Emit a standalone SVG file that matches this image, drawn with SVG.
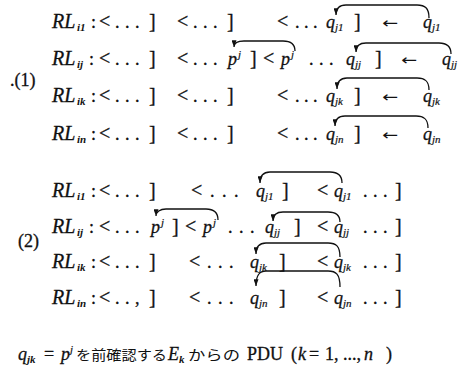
<svg xmlns="http://www.w3.org/2000/svg" width="471" height="376" viewBox="0 0 471 376">
<style>
.t{font-family:'Liberation Serif',serif;font-size:18px;fill:#111;stroke:#111;stroke-width:0.3}
.lt{font-family:'Liberation Serif',serif;font-size:20px;fill:#111;stroke:#111;stroke-width:0.3}
.m{font-family:'Liberation Serif',serif;font-size:18px;font-style:italic;fill:#111;stroke:#111;stroke-width:0.3}
.rl{font-family:'Liberation Serif',serif;font-size:20px;font-style:italic;fill:#111;stroke:#111;stroke-width:0.3}
.s{font-family:'Liberation Serif',serif;font-size:11px;font-style:italic;fill:#111;stroke:#111;stroke-width:0.2}
.sb{font-family:'Liberation Serif',serif;font-size:11px;font-style:italic;font-weight:bold;fill:#111}
.ar{font-family:'DejaVu Sans',sans-serif;font-size:15px;fill:#111}
.cj{font-family:'Noto Sans CJK JP',sans-serif;font-size:14px;fill:#111}
.c{fill:none;stroke:#111;stroke-width:1.3;marker-end:url(#ah)}
</style>
<defs>
<marker id="ah" viewBox="0 0 8 6" refX="8" refY="3" markerWidth="8" markerHeight="5" markerUnits="userSpaceOnUse" orient="auto">
<path d="M0,0 L8,3 L0,6 z" fill="#111"/>
</marker>
</defs>
<rect width="471" height="376" fill="#fff"/>
<g id="label1"><text class="t" x="10" y="86">.(1)</text></g>
<g id="label2"><text class="t" x="18" y="247">(2)</text></g>

<g id="s1-i1">
<text class="rl" x="52" y="28">RL</text><text class="sb" x="77" y="31">i1</text><text class="t" x="91" y="28">:</text>
<text class="lt" x="99" y="28">&lt;</text><text class="t" x="115 125 135" y="28">...</text><text class="lt" x="149" y="28">]</text>
<text class="lt" x="177" y="28">&lt;</text><text class="t" x="193 203 213" y="28">...</text><text class="lt" x="227" y="28">]</text>
<text class="lt" x="277" y="28">&lt;</text><text class="t" x="295 304 313" y="28">...</text>
<text class="m" x="326" y="28">q</text><text class="s" x="335" y="31">j1</text><text class="lt" x="354" y="28">]</text>
<text class="ar" x="382" y="28" textLength="16" lengthAdjust="spacingAndGlyphs">←</text>
<text class="m" x="423" y="28">q</text><text class="s" x="432" y="31">j1</text>
</g>
<g id="s1-ij">
<text class="rl" x="52" y="65">RL</text><text class="sb" x="77" y="68">ij</text><text class="t" x="89" y="65">:</text>
<text class="lt" x="99" y="65">&lt;</text><text class="t" x="115 125 135" y="65">...</text><text class="lt" x="149" y="65">]</text>
<text class="lt" x="177" y="65">&lt;</text><text class="t" x="193 203 213" y="65">...</text>
<text class="m" x="228" y="65">p</text><text class="s" x="238" y="58">j</text><text class="lt" x="250" y="65">]</text>
<text class="lt" x="263" y="65">&lt;</text><text class="m" x="281" y="65">p</text><text class="s" x="291" y="58">j</text>
<text class="t" x="309 319 329" y="65">...</text>
<text class="m" x="346" y="65">q</text><text class="s" x="355" y="68">jj</text><text class="lt" x="375" y="65">]</text>
<text class="ar" x="401" y="65" textLength="16" lengthAdjust="spacingAndGlyphs">←</text>
<text class="m" x="442" y="65">q</text><text class="s" x="451" y="68">jj</text>
</g>
<g id="s1-ik">
<text class="rl" x="52" y="102">RL</text><text class="sb" x="77" y="105">ik</text><text class="t" x="91" y="102">:</text>
<text class="lt" x="99" y="102">&lt;</text><text class="t" x="115 125 135" y="102">...</text><text class="lt" x="149" y="102">]</text>
<text class="lt" x="177" y="102">&lt;</text><text class="t" x="193 203 213" y="102">...</text><text class="lt" x="227" y="102">]</text>
<text class="lt" x="277" y="102">&lt;</text><text class="t" x="295 304 313" y="102">...</text>
<text class="m" x="326" y="102">q</text><text class="s" x="335" y="105">jk</text><text class="lt" x="354" y="102">]</text>
<text class="ar" x="382" y="102" textLength="16" lengthAdjust="spacingAndGlyphs">←</text>
<text class="m" x="423" y="102">q</text><text class="s" x="432" y="105">jk</text>
</g>
<g id="s1-in">
<text class="rl" x="52" y="140">RL</text><text class="sb" x="77" y="143">in</text><text class="t" x="91" y="140">:</text>
<text class="lt" x="99" y="140">&lt;</text><text class="t" x="115 125 135" y="140">...</text><text class="lt" x="149" y="140">]</text>
<text class="lt" x="177" y="140">&lt;</text><text class="t" x="193 203 213" y="140">...</text><text class="lt" x="227" y="140">]</text>
<text class="lt" x="277" y="140">&lt;</text><text class="t" x="295 304 313" y="140">...</text>
<text class="m" x="326" y="140">q</text><text class="s" x="335" y="143">jn</text><text class="lt" x="354" y="140">]</text>
<text class="ar" x="382" y="140" textLength="16" lengthAdjust="spacingAndGlyphs">←</text>
<text class="m" x="423" y="140">q</text><text class="s" x="432" y="143">jn</text>
</g>

<g id="s2-i1">
<text class="rl" x="52" y="197">RL</text><text class="sb" x="77" y="200">i1</text><text class="t" x="91" y="197">:</text>
<text class="lt" x="99" y="197">&lt;</text><text class="t" x="115 125 135" y="197">...</text><text class="lt" x="149" y="197">]</text>
<text class="lt" x="191" y="197">&lt;</text><text class="t" x="210 222 234" y="197">...</text>
<text class="m" x="256" y="197">q</text><text class="s" x="265" y="200">j1</text><text class="lt" x="282" y="197">]</text>
<text class="lt" x="317" y="197">&lt;</text><text class="m" x="334" y="197">q</text><text class="s" x="343" y="200">j1</text>
<text class="t" x="363 373 383" y="197">...</text><text class="lt" x="395" y="197">]</text>
</g>
<g id="s2-ij">
<text class="rl" x="52" y="233">RL</text><text class="sb" x="77" y="236">ij</text><text class="t" x="89" y="233">:</text>
<text class="lt" x="99" y="233">&lt;</text><text class="t" x="115 125 135" y="233">...</text>
<text class="m" x="151" y="233">p</text><text class="s" x="161" y="226">j</text><text class="lt" x="172" y="233">]</text>
<text class="lt" x="185" y="233">&lt;</text><text class="m" x="203" y="233">p</text><text class="s" x="213" y="226">j</text>
<text class="t" x="228 239 250" y="233">...</text>
<text class="m" x="265" y="233">q</text><text class="s" x="274" y="236">jj</text><text class="lt" x="294" y="233">]</text>
<text class="lt" x="317" y="233">&lt;</text><text class="m" x="334" y="233">q</text><text class="s" x="343" y="236">jj</text>
<text class="t" x="363 373 383" y="233">...</text><text class="lt" x="395" y="233">]</text>
</g>
<g id="s2-ik">
<text class="rl" x="52" y="268">RL</text><text class="sb" x="77" y="271">ik</text><text class="t" x="91" y="268">:</text>
<text class="lt" x="99" y="268">&lt;</text><text class="t" x="115 125 135" y="268">...</text><text class="lt" x="149" y="268">]</text>
<text class="lt" x="189" y="268">&lt;</text><text class="t" x="207 218 229" y="268">...</text>
<text class="m" x="250" y="268">q</text><text class="s" x="259" y="271">jk</text><text class="lt" x="279" y="268">]</text>
<text class="lt" x="317" y="268">&lt;</text><text class="m" x="334" y="268">q</text><text class="s" x="343" y="271">jk</text>
<text class="t" x="363 373 383" y="268">...</text><text class="lt" x="395" y="268">]</text>
</g>
<g id="s2-in">
<text class="rl" x="52" y="304">RL</text><text class="sb" x="77" y="307">in</text><text class="t" x="91" y="304">:</text>
<text class="lt" x="99" y="304">&lt;</text><text class="t" x="115 125 135" y="304">..,</text><text class="lt" x="149" y="304">]</text>
<text class="lt" x="189" y="304">&lt;</text><text class="t" x="207 218 229" y="304">...</text>
<text class="m" x="250" y="304">q</text><text class="s" x="259" y="307">jn</text><text class="lt" x="279" y="304">]</text>
<text class="lt" x="317" y="304">&lt;</text><text class="m" x="334" y="304">q</text><text class="s" x="343" y="307">jn</text>
<text class="t" x="363 373 383" y="304">...</text><text class="lt" x="395" y="304">]</text>
</g>

<g id="note">
<text class="m" x="18" y="360">q</text><text class="sb" x="27" y="363">jk</text>
<text class="t" x="44" y="360">=</text>
<text class="m" x="61" y="360">p</text><text class="s" x="70" y="353">j</text>
<text class="cj" x="76" y="360" textLength="91" lengthAdjust="spacingAndGlyphs">を前確認する</text>
<text class="m" x="168" y="360">E</text><text class="sb" x="179" y="363">k</text>
<text class="cj" x="188" y="360" textLength="52" lengthAdjust="spacingAndGlyphs">からの</text>
<text class="t" x="247" y="360" textLength="36">PDU</text>
<text class="t" x="291" y="360">(</text><text class="m" x="298" y="360">k</text>
<text class="t" x="309" y="360">=</text>
<text class="t" x="325" y="360">1, ..., </text>
<text class="m" x="364" y="360">n</text><text class="t" x="386" y="360">)</text>
</g>

<g id="connectors">
<path class="c" d="M429 18 C429 8 425 5 417 5 L346 5 C340 5 336 8 336 15"/>
<path class="c" d="M295 51 C295 44 291 41 283 41 L244 41 C238 41 234 43 234 47"/>
<path class="c" d="M451 54 C451 46 447 43 439 43 L366 43 C360 43 356 46 356 52"/>
<path class="c" d="M429 90 C429 81 425 78 417 78 L347 78 C341 78 337 81 337 89"/>
<path class="c" d="M428 128 C428 119 424 116 416 116 L345 116 C339 116 335 119 335 126"/>
<path class="c" d="M342 183 C342 175 338 172 330 172 L270 172 C264 172 260 175 260 183"/>
<path class="c" d="M218 220 C218 212 214 209 206 209 L166 209 C160 209 156 212 156 216"/>
<path class="c" d="M340 222 C340 215 336 212 328 212 L283 212 C277 212 273 215 273 221"/>
<path class="c" d="M340 257 C340 246 336 243 328 243 L266 243 C260 243 256 246 256 254"/>
<path class="c" d="M340 287 C340 274 336 271 328 271 L266 271 C260 271 256 274 256 286"/>
</g>
</svg>
